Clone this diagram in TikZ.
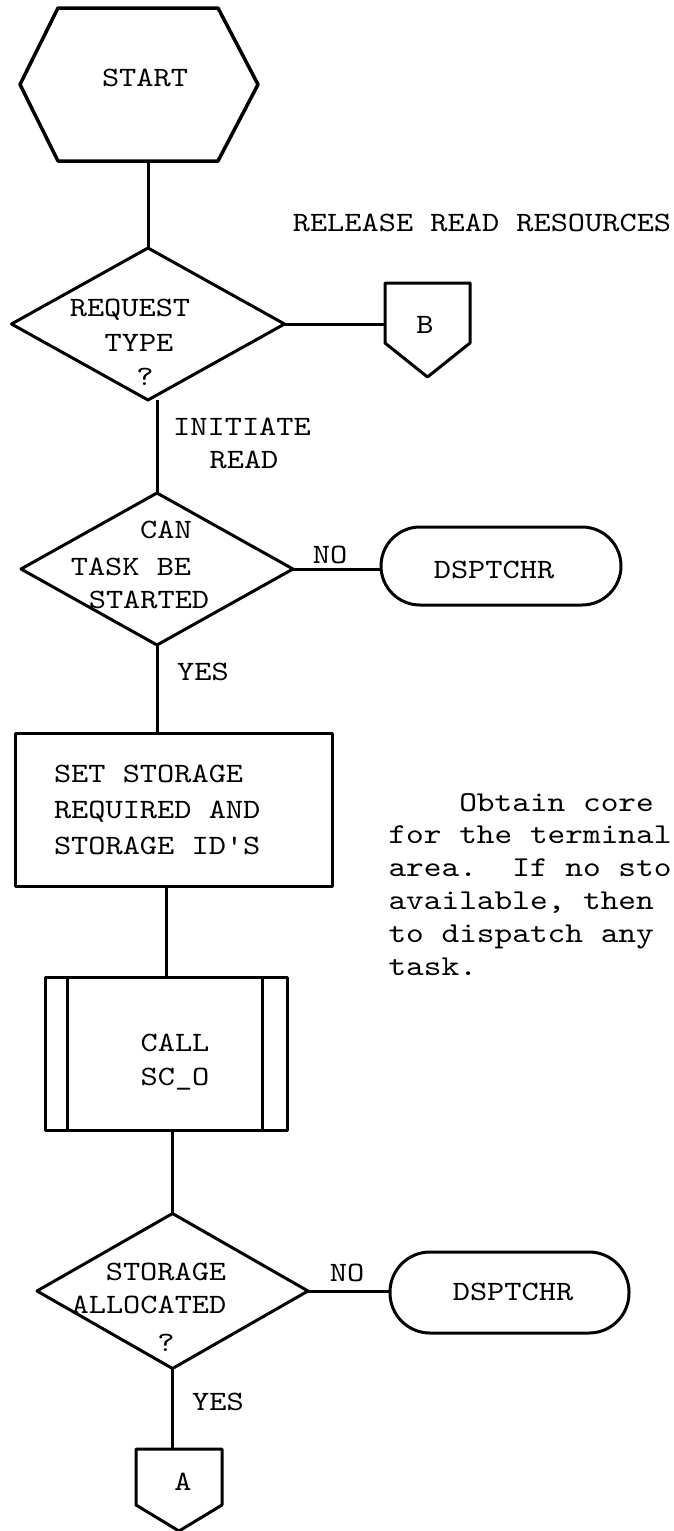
\documentclass[tikz,border=0pt]{standalone}
\usepackage{fontspec}
\setmonofont[FakeStretch=1.17]{lmmono10-regular.otf}
\usetikzlibrary{shapes.geometric}

\begin{document}
\begin{tikzpicture}[x=1pt, y=-1pt, line join=round, line width=3pt,
	font=\ttfamily\fontsize{28}{36}\selectfont,
	shapebox/.style={rectangle, inner sep=0pt, outer sep=0pt},
	decision/.style={diamond, draw, inner sep=0pt, outer sep=0pt},
	procbox/.style={rectangle, draw, outer sep=0pt},
	term/.style={rectangle, draw, rounded corners=39pt, outer sep=0pt},
	lbl/.style={inner sep=0pt, anchor=base},
	note/.style={inner sep=0pt, anchor=base west, font=\ttfamily\fontsize{28.8}{33}\selectfont}]
	\useasboundingbox (0,0) rectangle (673,1531);
	
	% Start
	\node[shapebox, minimum width=238pt, minimum height=153pt] (start) at (139,84.5) {};
	\draw[line width=3.5pt] (start.west) -- ([xshift=38pt]start.north west) -- ([xshift=-40pt]start.north east)
		-- (start.east) -- ([xshift=-40pt]start.south east) -- ([xshift=38pt]start.south west) -- cycle;
	\node[lbl] (starttxt) at (145,86.5) {START};
	
	% Request type ?
	\node[decision, minimum width=273pt, minimum height=152pt] (req) at (148,324) {};
	\foreach \t/\x/\y [count=\k] in {REQUEST/130/308, TYPE/139/343, ?/145/377} {
		\node[lbl] (req\k) at (\x,\y+8.5) {\t};
	}
	\node[shapebox, minimum width=85pt, minimum height=94pt] (b) at (427.5,330) {};
	\draw (b.north west) -- (b.north east) -- ([yshift=34pt]b.south east) -- (b.south)
		-- ([yshift=34pt]b.south west) -- cycle;
	\node[lbl] (btxt) at (425,333.5) {B};
	\node[lbl] (relres) at (482,231.5) {RELEASE READ RESOURCES};
	\node[lbl] (init1) at (242,435.5) {INITIATE};
	\node[lbl] (init2) at (244,468.5) {READ};
	
	% Can task be started ?
	\node[decision, minimum width=272pt, minimum height=152pt] (can) at (157,569) {};
	\foreach \t/\x/\y [count=\k] in {CAN/166/530, TASK BE/131/567, STARTED/149/600} {
		\node[lbl] (can\k) at (\x,\y+8.5) {\t};
	}
	\node[term, minimum width=240pt, minimum height=78pt] (dsp1) at (501,566) {};
	\node[lbl] (dsp1txt) at (494,578.5) {DSPTCHR};
	\node[lbl] (no1) at (330,563.5) {NO};
	\node[lbl] (yes1) at (203,680.5) {YES};
	
	% Set storage
	\node[procbox, minimum width=317pt, minimum height=153pt, text width=239pt, inner xsep=39pt, align=left]
		(set) at (173.5,809.5) {\spaceskip=0pt\xspaceskip=0pt SET STORAGE\\REQUIRED AND\\STORAGE ID'S};
	
	% Call SC_O
	\node[procbox, minimum width=242pt, minimum height=153pt] (call) at (166,1053.5) {};
	\draw ([xshift=22pt]call.north west) -- ([xshift=22pt]call.south west);
	\draw ([xshift=-25pt]call.north east) -- ([xshift=-25pt]call.south east);
	\node[lbl] (call1) at (175,1051.5) {CALL};
	\node[lbl] (call2) at (175,1085.5) {SC\_O};
	
	% Storage allocated ?
	\node[decision, minimum width=271pt, minimum height=155pt] (stor) at (172.5,1291) {};
	\foreach \t/\x/\y [count=\k] in {STORAGE/166/1272, ALLOCATED/149/1305, ?/166/1343} {
		\node[lbl] (stor\k) at (\x,\y+8.5) {\t};
	}
	\node[term, minimum width=239pt, minimum height=81pt, rounded corners=40pt] (dsp2) at (509.5,1292.5) {};
	\node[lbl] (dsp2txt) at (513,1300.5) {DSPTCHR};
	\node[lbl] (no2) at (347,1281.5) {NO};
	\node[lbl] (yes2) at (218,1410.5) {YES};
	\node[shapebox, minimum width=86pt, minimum height=82pt] (a) at (179,1490) {};
	\draw (a.north west) -- (a.north east) -- ([yshift=26pt]a.south east) -- (a.south)
		-- ([yshift=26pt]a.south west) -- cycle;
	\node[lbl] (atxt) at (183,1490.5) {A};
	
	% Connectors
	\draw (req.north |- start.south) -- (req.north);
	\draw (req.east) -- (req.east -| b.west);
	\draw (can.north |- req.south) -- (can.north);
	\draw (can.east) -- (can.east -| dsp1.west);
	\draw (can.south) -- (can.south |- set.north);
	\draw (call.north |- set.south) -- (call.north);
	\draw (stor.north |- call.south) -- (stor.north);
	\draw (stor.east) -- (stor.east -| dsp2.west);
	\draw (stor.south) -- (stor.south |- a.north);
	
	% Note
	\foreach \t [count=\k from 0] in {~~~~Obtain core, for the terminal, area.~~If no sto, {available, then}, to dispatch any, task.} {
		\node[note] (note\k) at (387,811+32.8*\k) {\t};
	}
\end{tikzpicture}
\end{document}
